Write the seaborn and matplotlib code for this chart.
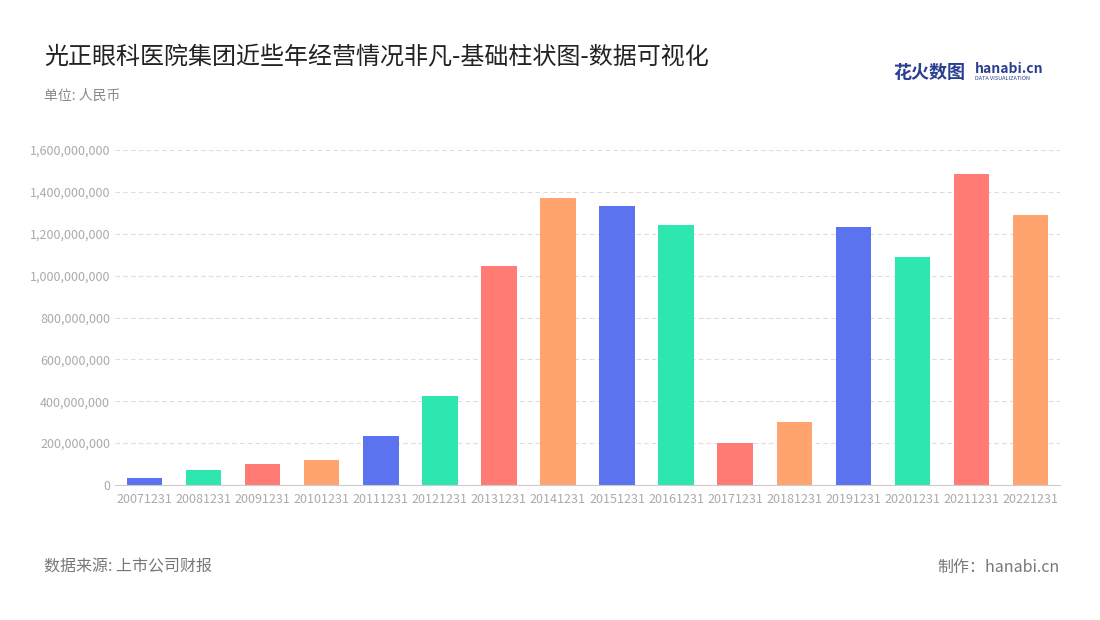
import matplotlib
matplotlib.use("Agg")
import matplotlib.pyplot as plt
import seaborn as sns
import pandas as pd
from matplotlib.ticker import FuncFormatter, MultipleLocator

plt.rcParams["font.family"] = ["Noto Sans CJK SC", "DejaVu Sans"]

years = ["20071231","20081231","20091231","20101231","20111231","20121231","20131231","20141231",
         "20151231","20161231","20171231","20181231","20191231","20201231","20211231","20221231"]
values = [33e6,72e6,100e6,120e6,234e6,425e6,1046e6,1371e6,
          1332e6,1242e6,200e6,300e6,1232e6,1089e6,1485e6,1289e6]
palette_cycle = ["#5B73EE","#2EE6B0","#FF7B73","#FFA36F"]

df = pd.DataFrame({"year": years, "value": values})
colors = [palette_cycle[i % 4] for i in range(len(years))]

fig = plt.figure(figsize=(11, 6.2), dpi=100)
ax = fig.add_axes([115/1100, 1-485/620, 945/1100, 335/620])
sns.barplot(data=df, x="year", y="value", hue="year", palette=colors, legend=False,
            width=0.6, ax=ax, saturation=1)
ax.set_ylim(0, 1.6e9)
ax.set_xlim(-0.5, len(years)-0.5)
ax.yaxis.set_major_locator(MultipleLocator(2e8))
ax.yaxis.set_major_formatter(FuncFormatter(lambda v, p: f"{int(v):,}"))
ax.grid(axis="y", color="#dddddd", linestyle=(0, (4, 3)), linewidth=0.8)
ax.set_axisbelow(True)
for s in ["top", "right", "left"]:
    ax.spines[s].set_visible(False)
ax.spines["bottom"].set_color("#cccccc")
ax.tick_params(axis="both", colors="#aaaaaa", labelsize=9, length=0)
ax.tick_params(axis="x", pad=6)
ax.set_xlabel(""); ax.set_ylabel("")

fig.text(44/1100, 1-57/620, "光正眼科医院集团近些年经营情况非凡-基础柱状图-数据可视化", fontsize=17.3,
         color="#222222", va="center")
fig.text(44/1100, 1-96/620, "单位: 人民币", fontsize=10, color="#888888", va="center")
fig.text(44/1100, 1-567/620, "数据来源: 上市公司财报", fontsize=11.5, color="#777777", va="center")
fig.text(1060/1100, 1-567/620, "制作：hanabi.cn", fontsize=11.5, color="#777777", va="center", ha="right")
fig.text(893/1100, 1-72/620, "花火数图", fontsize=13, color="#2a3f8f", va="center", fontweight="bold")
fig.text(975/1100, 1-69/620, "hanabi.cn", fontsize=10, color="#2a3f8f", va="center", fontweight="bold")
fig.text(975/1100, 1-79/620, "DATA VISUALIZATION", fontsize=4, color="#2a3f8f", va="center")
fig.savefig("out.png", dpi=100)
